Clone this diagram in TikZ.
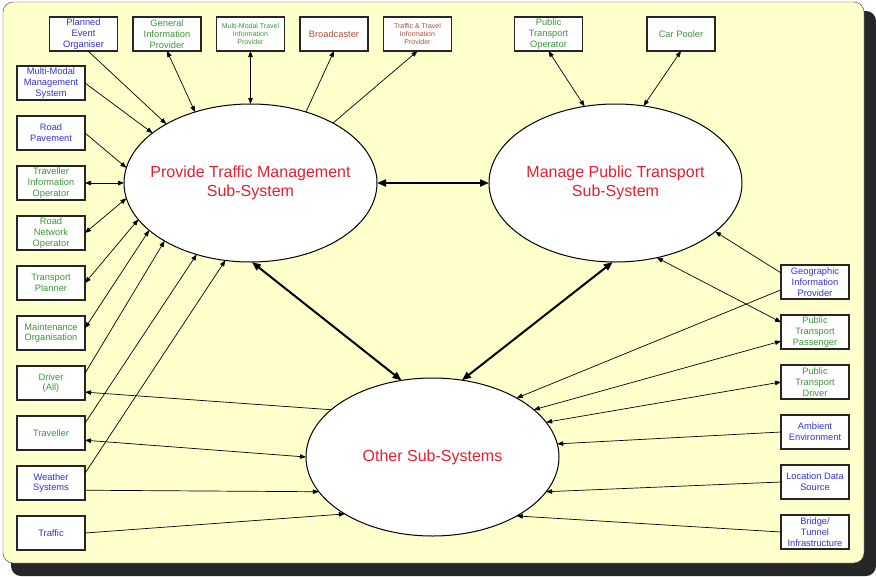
\documentclass[tikz,border=0pt]{standalone}
\usepackage{fontspec}
\setmainfont{Liberation Sans}
\usetikzlibrary{
arrows.meta,
positioning,
shapes.geometric
}
\definecolor{bgyellow}{HTML}{FFFFCC}
\definecolor{shadowgrey}{HTML}{262626}
\definecolor{sysred}{HTML}{DD2233}
\definecolor{actblue}{HTML}{3333CC}
\definecolor{actgreen}{HTML}{3C963C}
\definecolor{actbrown}{HTML}{A8503A}

\begin{document}
\begin{tikzpicture}[
x=1pt, y=-1pt,
node distance=16pt,
>={Triangle[length=6pt,width=4.5pt]},
actor/.style={
rectangle,
draw=black!85,
line width=1.3pt,
fill=white,
minimum width=68pt,
minimum height=34pt,
inner sep=0pt,
outer sep=0pt,
align=center,
font=\fontsize{9.3}{10.8}\selectfont
},
small actor/.style={actor, font=\fontsize{7}{8.3}\selectfont},
subsys/.style={
ellipse,
draw,
line width=1pt,
fill=white,
minimum width=253pt,
minimum height=158pt,
inner xsep=-25pt,
inner ysep=0pt,
outer sep=0pt,
align=center,
text=sysred,
font=\fontsize{16}{19}\selectfont
},
link/.style={line width=0.7pt},
main link/.style={line width=2pt, >={Triangle[length=9pt,width=7pt]}}
]

% frame with its shadow
\useasboundingbox (0,0) rectangle (876,576);
\fill[shadowgrey, rounded corners=10pt] (11,11) rectangle (876,576);
\draw[black!80, fill=bgyellow, rounded corners=10pt] (3,2) rectangle (864,563);

% sub-systems
\node[subsys] (ptm) at (250.5,183) {Provide Traffic Management\\Sub-System};
\node[subsys] (mpt) at (615.5,183) {Manage Public Transport\\Sub-System};
\node[subsys] (oss) at (432.5,457) {Other Sub-Systems};

% top row
\node[actor, text=actblue] (peo) at (83.5,34) {Planned\\Event\\Organiser};
\node[actor, text=actgreen, right=15.5pt of peo] (gip) {General\\Information\\Provider};
\node[small actor, text=actgreen, right=15.5pt of gip] (mmtip) {Multi-Modal Travel\\Information\\Provider};
\node[actor, text=actbrown, right=15.5pt of mmtip] (bcast) {Broadcaster};
\node[small actor, text=actbrown, right=15.5pt of bcast] (ttip) {Traffic \& Travel\\Information\\Provider};
\node[actor, text=actgreen] (pto) at (548.5,34) {Public\\Transport\\Operator};
\node[actor, text=actgreen] (cpool) at (681,34) {Car Pooler};

% left column
\node[actor, text=actblue] (mmms) at (51,83) {Multi-Modal\\Management\\System};
\node[actor, text=actblue, below=of mmms] (rpav) {Road\\Pavement};
\node[actor, text=actgreen, below=of rpav] (tio) {Traveller\\Information\\Operator};
\node[actor, text=actgreen, below=of tio] (rno) {Road\\Network\\Operator};
\node[actor, text=actgreen, below=of rno] (tplan) {Transport\\Planner};
\node[actor, text=actgreen, below=of tplan] (maint) {Maintenance\\Organisation};
\node[actor, text=actgreen, below=of maint] (drv) {Driver\\(All)};
\node[actor, text=actgreen, below=of drv] (trav) {Traveller};
\node[actor, text=actblue, below=of trav] (wsys) {Weather\\Systems};
\node[actor, text=actblue, below=of wsys] (trf) {Traffic};

% right column
\node[actor, text=actblue] (geo) at (815,282) {Geographic\\Information\\Provider};
\node[actor, text=actgreen, below=of geo] (ptp) {Public\\Transport\\Passenger};
\node[actor, text=actgreen, below=of ptp] (ptd) {Public\\Transport\\Driver};
\node[actor, text=actblue, below=of ptd] (amb) {Ambient\\Environment};
\node[actor, text=actblue, below=of amb] (lds) {Location Data\\Source};
\node[actor, text=actblue, below=of lds] (btinf) {Bridge/\\Tunnel\\Infrastructure};

% top row links
\draw[link, ->] (peo.285) -- (ptm.145);
\draw[link, <->] (gip.south) -- (ptm.128);
\draw[link, <->] (mmtip.south) -- (ptm.90);
\draw[link, ->] (ptm.52) -- (bcast.south);
\draw[link, ->] (ptm.36) -- (ttip.south);
\draw[link, <->] (pto.south) -- (mpt.112);
\draw[link, <->] (cpool.south) -- (mpt.70);

% left column links
\draw[link, ->] (mmms.east) -- (ptm.153);
\draw[link, ->] (rpav.east) -- (ptm.173);
\draw[link, <->] (tio.east) -- (ptm.180);
\draw[link, <->] (rno.east) -- (ptm.187);
\draw[link, <->] (tplan.east) -- (ptm.198);
\draw[link, <->] (maint.8) -- (ptm.205);
\draw[link, ->] (drv.16) -- (ptm.214);
\draw[link, ->] (trav.16) -- (ptm.233);
\draw[link, ->] (wsys.16) -- (ptm.252);
\draw[link, ->] (oss.155) -- (drv.345);
\draw[link, <->] (trav.348) -- (oss.180);
\draw[link, ->] (wsys.348) -- (oss.197);
\draw[link, ->] (trf.east) -- (oss.213);

% right column links
\draw[link, ->] (geo.165) -- (mpt.334);
\draw[link, ->] (geo.193) -- (oss.35);
\draw[link, <->] (ptp.164) -- (mpt.299);
\draw[link, <->] (ptp.195) -- (oss.25);
\draw[link, <->] (ptd.west) -- (oss.17);
\draw[link, ->] (amb.west) -- (oss.6);
\draw[link, ->] (lds.west) -- (oss.343);
\draw[link, ->] (btinf.west) -- (oss.325);

% between sub-systems
\draw[main link, <->] (ptm.east) -- (mpt.west);
\draw[main link, <->] (ptm.271) -- (oss.112);
\draw[main link, <->] (mpt.268) -- (oss.69);

\end{tikzpicture}
\end{document}
